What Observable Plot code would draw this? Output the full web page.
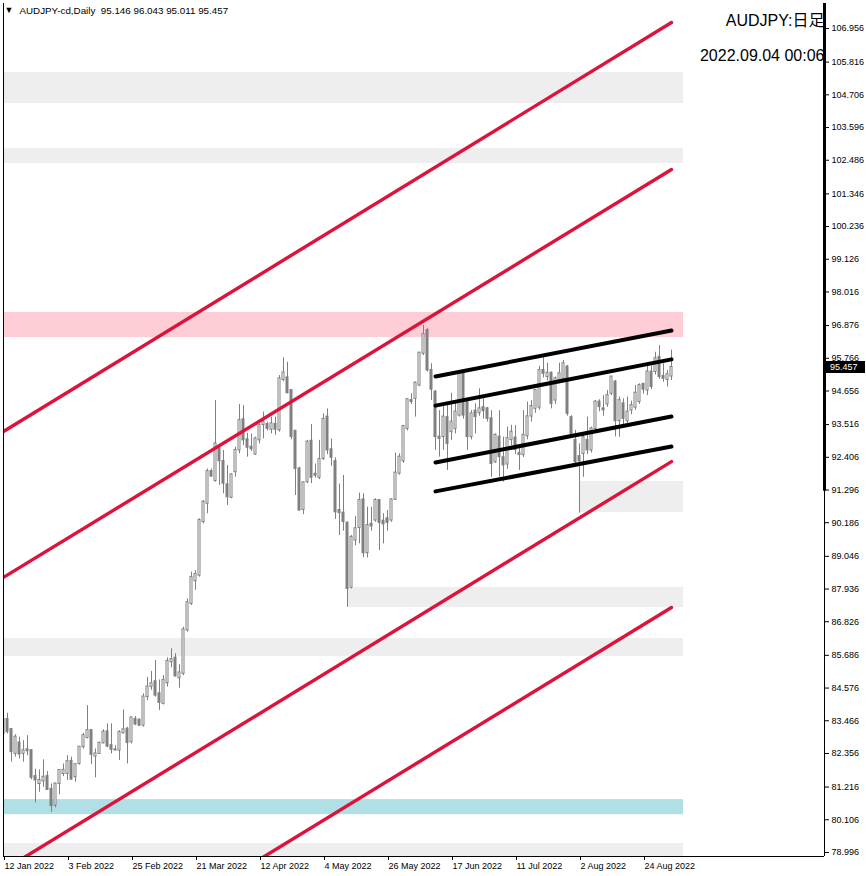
<!DOCTYPE html>
<html><head><meta charset="utf-8">
<script src="https://cdn.jsdelivr.net/npm/d3@7"></script>
<script src="https://cdn.jsdelivr.net/npm/@observablehq/plot@0.6"></script>
<style>
html,body{margin:0;padding:0;background:#fff;}
#chart{width:866px;height:876px;overflow:hidden;}
</style></head><body><div id="chart"></div>
<script>
// ---- data: daily OHLC, bar index 0 = 12 Jan 2022 ... 167 = 2 Sep 2022
const openP = [83.02,83.51,83.17,82.34,82.71,82.34,82.48,82.45,81.57,81.32,81.41,81.57,81.14,80.59,81.32,81.66,81.66,82.09,81.55,82.00,
82.57,82.88,83.13,82.25,82.34,82.70,83.09,82.62,82.48,82.45,83.04,83.18,82.74,83.51,83.49,83.30,84.27,84.61,84.79,84.38,
84.04,84.74,85.45,85.59,84.91,85.06,86.53,87.43,88.20,88.39,90.21,90.83,91.92,91.60,92.69,92.26,91.47,91.03,91.90,92.64,
93.68,93.00,92.75,92.50,92.98,93.50,93.52,93.34,93.52,93.32,95.03,95.10,94.67,93.29,92.01,90.62,91.56,92.95,91.83,91.71,
92.35,93.77,92.66,92.26,90.60,90.51,90.17,87.98,89.58,90.01,90.96,89.15,90.13,90.26,90.94,90.24,90.32,90.26,90.96,91.85,
92.27,93.37,94.33,94.39,94.84,95.92,96.71,95.35,94.62,93.09,93.09,93.75,93.26,93.37,93.82,95.24,94.33,93.09,93.97,93.90,
94.09,94.05,93.71,92.24,93.09,92.39,92.16,92.99,93.06,92.54,92.48,93.12,93.79,94.05,94.09,95.35,95.13,95.26,94.33,95.01,
95.07,95.47,93.75,92.98,92.43,92.52,92.98,92.64,93.37,94.28,94.05,94.20,94.56,94.96,93.63,94.22,93.63,93.99,94.09,94.28,
94.88,94.67,95.30,95.30,95.80,95.15,95.03,95.146];
const highP = [83.70,83.72,83.20,82.99,82.91,82.79,82.96,82.48,81.82,81.80,82.14,81.74,81.32,81.35,81.80,82.00,82.28,82.23,82.00,82.59,
83.04,83.98,83.16,82.51,82.74,83.16,83.36,83.36,82.62,83.13,83.83,83.25,83.59,83.61,83.49,84.38,84.94,85.14,85.51,84.85,
85.00,85.60,85.91,85.74,85.37,86.64,87.60,88.51,88.56,90.32,90.94,92.01,92.01,94.33,92.81,92.64,92.13,91.84,92.75,94.20,
94.16,93.22,93.20,93.09,93.54,93.94,93.60,93.77,93.77,95.18,95.78,95.63,94.70,93.31,92.07,91.56,92.98,93.52,92.18,92.98,
93.88,94.05,93.03,92.39,91.50,91.79,90.21,89.75,90.40,91.19,91.17,90.71,90.71,91.00,90.94,90.49,90.60,91.00,92.55,92.52,
93.49,94.39,94.56,94.96,95.97,96.88,96.77,95.58,94.67,93.99,94.22,94.28,94.58,94.28,95.30,95.35,94.39,93.99,94.22,94.73,
94.45,94.10,93.99,93.20,93.99,93.09,93.43,93.49,93.48,92.80,93.99,94.28,94.33,94.70,95.49,95.80,95.60,95.30,95.13,95.60,
95.69,95.52,93.82,93.32,92.86,93.15,93.77,93.43,94.33,94.36,94.50,94.67,95.15,95.01,94.45,94.39,94.45,94.31,94.84,94.90,
94.92,95.58,95.58,95.97,96.20,95.58,95.35,96.043];
const lowP = [83.00,83.02,82.06,82.23,82.17,82.06,82.28,81.46,80.68,81.04,81.21,81.10,80.36,80.51,80.96,81.57,81.44,81.44,81.38,81.96,
82.51,82.85,81.98,81.53,82.32,82.68,82.55,82.34,82.44,82.12,83.02,82.00,82.68,83.30,83.27,83.25,84.15,84.50,84.27,83.81,
84.00,84.61,85.26,84.95,84.57,85.00,86.47,87.38,87.89,88.34,90.15,90.49,91.73,91.56,91.45,91.17,90.77,91.00,91.73,92.52,
92.80,92.41,92.60,92.47,92.86,93.03,93.30,93.20,93.15,93.26,94.97,94.56,93.00,91.11,90.58,90.46,91.51,91.51,91.70,91.65,
92.30,92.50,92.10,90.30,89.75,89.90,87.32,87.94,89.40,89.47,89.00,88.99,89.90,90.20,89.24,89.47,89.90,90.20,90.94,91.80,
92.20,93.30,94.20,93.77,94.80,95.86,95.30,94.33,92.64,92.41,92.64,91.96,92.98,93.20,93.77,93.70,92.64,93.00,93.20,93.80,
93.70,93.60,91.73,92.20,91.73,91.56,92.00,92.80,92.50,91.96,92.40,93.00,93.60,93.90,94.00,95.10,95.00,94.05,94.20,94.90,
95.00,93.80,93.10,92.10,90.51,91.73,92.50,92.55,93.30,93.95,93.80,94.10,94.50,93.10,93.09,93.50,93.55,93.85,94.00,94.20,
94.55,94.50,94.70,95.20,95.05,94.95,94.79,95.011];
const closeP = [83.51,83.08,82.40,82.91,82.32,82.45,82.43,81.53,81.44,81.44,81.55,81.12,80.57,81.32,81.78,81.78,82.08,81.47,81.98,82.57,
82.96,83.13,82.31,82.34,82.70,83.08,82.59,82.48,82.46,83.07,83.16,82.71,83.56,83.34,83.30,84.27,84.61,84.72,84.32,84.07,
84.83,85.48,85.54,84.97,85.09,86.55,87.47,88.33,88.43,90.26,90.88,91.92,91.75,92.86,92.27,91.51,91.05,91.81,92.64,93.65,
92.98,92.73,92.68,93.03,93.48,93.60,93.37,93.54,93.34,95.07,95.27,94.58,93.09,92.01,90.60,91.54,92.92,91.71,91.78,92.33,
93.69,92.64,92.39,90.54,90.51,90.21,87.94,89.69,89.98,90.94,89.15,90.09,90.06,90.94,90.18,90.13,90.18,90.96,91.87,92.41,
93.45,94.36,94.28,94.92,95.94,96.57,95.35,94.70,93.09,93.03,93.77,92.86,93.60,93.94,95.24,93.82,93.09,93.88,93.77,94.05,
93.97,93.71,92.18,93.15,92.41,92.13,93.04,93.26,92.65,92.48,93.15,93.78,94.13,94.67,95.35,95.24,95.26,94.22,95.07,95.24,
95.58,93.88,93.20,92.24,92.27,93.07,92.64,93.37,94.28,94.11,94.00,94.50,95.13,93.63,94.33,93.71,93.94,94.16,94.58,94.84,
94.70,95.30,94.79,95.75,95.13,95.07,95.21,95.457];

// ---- axis tick values / labels
const xTickIndex = [0,16,32,48,64,80,96,112,128,144,160];
const xTickLabels = ["12 Jan 2022","3 Feb 2022","25 Feb 2022","21 Mar 2022","12 Apr 2022","4 May 2022","26 May 2022","17 Jun 2022","11 Jul 2022","2 Aug 2022","24 Aug 2022"];
const yTicks = [78.996,80.106,81.216,82.356,83.466,84.576,85.686,86.826,87.936,89.046,90.186,91.296,92.406,93.516,94.656,95.766,96.876,98.016,99.126,100.236,101.346,102.486,103.596,104.706,105.816,106.956];

// ---- red parallel channel (anchor bars 0 and 167)
const redAnchorIdx = [0, 167];
const redStart = [93.28, 88.33, 78.40, 73.45];
const redEnd = [107.16, 102.17, 92.26, 87.31];
// ---- black parallel channel (anchor bars 108 and 167)
const blackAnchorIdx = [108, 167];
const blackStart = [95.15, 94.16, 92.23, 91.25];
const blackEnd = [96.71, 95.73, 93.79, 92.77];
// ---- horizontal zones
const zoneTop    = [105.46, 102.885, 97.32, 91.585, 87.99, 86.26, 80.79, 79.30];
const zoneBottom = [104.41, 102.376, 96.47, 90.53, 87.31, 85.65, 80.28, 78.86];
const zoneStartIdx = [0, 0, 0, 144, 86, 0, 0, 0];
const zoneEndIdx = 170;
const zoneKind = ["sr","sr","resist","sr","sr","sr","support","sr"];

// ---- texts
const symbolHeader = "AUDJPY-cd,Daily  95.146 96.043 95.011 95.457";
const titleText = "AUDJPY:日足";
const dateText = "2022.09.04 00:06";

// ---------------- build
const W = 866, H = 876;
const mL = 3, mR = 42, mT = 3, mB = 20;
const barPx = 4;
const xDomain = [0, (W - mL - mR) / barPx];
const yDomain = [78.86, 107.805];
const kindColor = {sr: "#eeeeee", resist: "#ffcdd5", support: "#b0e0e6"};

const bars = openP.map((o, i) => ({i, o, h: highP[i], l: lowP[i], c: closeP[i], up: closeP[i] >= o}));
const zones = zoneTop.map((t, k) => ({t, b: zoneBottom[k], s: zoneStartIdx[k], e: zoneEndIdx, kind: zoneKind[k]}));
const redLines = redStart.flatMap((s, k) => [{k, i: redAnchorIdx[0], p: s}, {k, i: redAnchorIdx[1], p: redEnd[k]}]);
const blackLines = blackStart.flatMap((s, k) => [{k, i: blackAnchorIdx[0], p: s}, {k, i: blackAnchorIdx[1], p: blackEnd[k]}]);
const labelMap = new Map(xTickIndex.map((d, k) => [d, xTickLabels[k]]));
const gray = "#808080";

const plot = Plot.plot({
  width: W, height: H,
  marginLeft: mL, marginRight: mR, marginTop: mT, marginBottom: mB,
  style: {background: "#fff", fontFamily: "'Liberation Sans', 'Noto Sans CJK JP', sans-serif", color: "#000", overflow: "visible"},
  x: {type: "linear", domain: xDomain, axis: null},
  y: {type: "linear", domain: yDomain, axis: null},
  marks: [
    Plot.rect(zones, {x1: "s", x2: "e", y1: "b", y2: "t", fill: d => kindColor[d.kind], clip: true}),
    Plot.ruleX(bars, {x: "i", y1: "l", y2: "h", stroke: gray, strokeWidth: 1, clip: true}),
    Plot.rect(bars, {x1: d => d.i - 0.25, x2: d => d.i + 0.25, y1: d => Math.min(d.o, d.c), y2: d => Math.max(d.o, d.c),
      insetTop: -0.5, fill: d => d.up ? "#ffffff" : gray, stroke: gray, strokeWidth: 1, clip: true}),
    Plot.line(redLines, {x: "i", y: "p", z: "k", stroke: "#dc143c", strokeWidth: 3.4, clip: true}),
    Plot.line(blackLines, {x: "i", y: "p", z: "k", stroke: "#000", strokeWidth: 4, clip: true}),
    Plot.ruleY([yDomain[0]], {stroke: "#000"}),
    Plot.ruleX([xDomain[1]], {stroke: "#000"}),
    Plot.ruleX([xDomain[1]], {y1: blackStart[3], y2: yDomain[1], stroke: "#000", strokeWidth: 3}),
    Plot.ruleX([xDomain[0]], {stroke: "#000"}),
    Plot.axisY(yTicks, {anchor: "right", tickSize: 4, tickPadding: 3, tickFormat: d => d.toFixed(3), fontSize: 9, fill: "#000", stroke: "#000"}),
    Plot.axisX(xTickIndex, {anchor: "bottom", tickSize: 4, tickPadding: 2, textAnchor: "start", dx: 1, tickFormat: d => labelMap.get(d), fontSize: 9, fill: "#000", stroke: "#000"}),
    Plot.text([symbolHeader], {frameAnchor: "top-left", dx: 16, dy: 7, text: d => d, textAnchor: "start", lineAnchor: "middle", fontSize: 9.8, fill: "#000"}),
    Plot.text(["▼"], {frameAnchor: "top-left", dx: 5.5, dy: 7, text: d => d, textAnchor: "middle", lineAnchor: "middle", fontSize: 9, fill: "#000"}),
    Plot.text([titleText], {frameAnchor: "top-right", dx: 0, dy: 17, text: d => d, textAnchor: "end", lineAnchor: "middle", fontSize: 16, fill: "#000"}),
    Plot.text([dateText], {frameAnchor: "top-right", dx: 0, dy: 52, text: d => d, textAnchor: "end", lineAnchor: "middle", fontSize: 16, fill: "#000"})
  ]
});
document.getElementById("chart").appendChild(plot);

// current price label on the price axis
const last = closeP[closeP.length - 1];
const yPos = plot.scale("y").apply(last);
const xPos = plot.scale("x").apply(xDomain[1]);
const svg = d3.select(plot);
const g = svg.append("g");
g.append("rect").attr("x", xPos + 1).attr("y", Math.round(yPos) - 6).attr("width", W - xPos - 2).attr("height", 12).attr("fill", "#000");
g.append("text").attr("x", xPos + 6).attr("y", Math.round(yPos)).attr("dy", "0.35em").attr("text-anchor", "start")
  .attr("fill", "#fff").attr("font-size", 9).attr("font-family", "'Liberation Sans', sans-serif").text(last.toFixed(3));
</script>
</body></html>
